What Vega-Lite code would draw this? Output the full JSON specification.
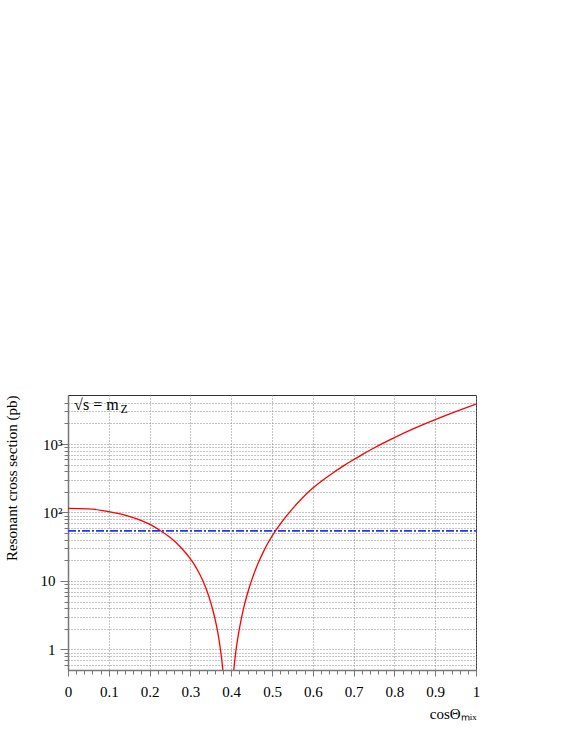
{
  "$schema": "https://vega.github.io/schema/vega-lite/v6.json",
  "width": 408,
  "height": 275,
  "autosize": "none",
  "padding": {"left": 68, "top": 395, "right": 96, "bottom": 70},
  "background": "white",
  "config": {
    "font": "Liberation Serif",
    "view": {"stroke": "#333", "strokeWidth": 1}
  },
  "datasets": {
    "curve": [
      {"cos": 0, "xsec": 115},
      {"cos": 0.05, "xsec": 113},
      {"cos": 0.1, "xsec": 103},
      {"cos": 0.15, "xsec": 88},
      {"cos": 0.2, "xsec": 67.5},
      {"cos": 0.224, "xsec": 55.5},
      {"cos": 0.25, "xsec": 43.3},
      {"cos": 0.275, "xsec": 31.5},
      {"cos": 0.3, "xsec": 21},
      {"cos": 0.31, "xsec": 17.2},
      {"cos": 0.32, "xsec": 13.5},
      {"cos": 0.33, "xsec": 10.2},
      {"cos": 0.34, "xsec": 7.3},
      {"cos": 0.35, "xsec": 4.8},
      {"cos": 0.36, "xsec": 2.85},
      {"cos": 0.37, "xsec": 1.4},
      {"cos": 0.3795, "xsec": 0.5},
      {"cos": 0.385, "xsec": 0.18},
      {"cos": 0.3925, "xsec": 0.01},
      {"cos": 0.4, "xsec": 0.15},
      {"cos": 0.4064, "xsec": 0.5},
      {"cos": 0.41, "xsec": 0.8},
      {"cos": 0.42, "xsec": 2.0},
      {"cos": 0.43, "xsec": 3.9},
      {"cos": 0.44, "xsec": 6.6},
      {"cos": 0.45, "xsec": 10.2},
      {"cos": 0.46, "xsec": 14.8},
      {"cos": 0.47, "xsec": 20.5},
      {"cos": 0.48, "xsec": 27.5},
      {"cos": 0.49, "xsec": 35.8},
      {"cos": 0.5, "xsec": 45},
      {"cos": 0.525, "xsec": 74},
      {"cos": 0.55, "xsec": 113},
      {"cos": 0.575, "xsec": 164},
      {"cos": 0.6, "xsec": 227},
      {"cos": 0.625, "xsec": 298},
      {"cos": 0.65, "xsec": 381},
      {"cos": 0.675, "xsec": 479},
      {"cos": 0.7, "xsec": 591},
      {"cos": 0.725, "xsec": 725},
      {"cos": 0.75, "xsec": 876},
      {"cos": 0.775, "xsec": 1048},
      {"cos": 0.8, "xsec": 1243},
      {"cos": 0.85, "xsec": 1704},
      {"cos": 0.9, "xsec": 2270},
      {"cos": 0.95, "xsec": 2969},
      {"cos": 1.0, "xsec": 3830}
    ],
    "ref": [
      {"cos": 0, "xsec": 54},
      {"cos": 1, "xsec": 54}
    ],
    "note": [
      {"main": "√s = m", "sub": "Z"}
    ]
  },
  "layer": [
    {
      "data": {"name": "curve"},
      "mark": {"type": "line", "color": "#ff0000", "strokeWidth": 1.3, "clip": true, "interpolate": "monotone"},
      "encoding": {
        "x": {
          "field": "cos", "type": "quantitative",
          "scale": {"domain": [0, 1], "nice": false, "zero": false},
          "axis": {
            "values": [0,0.02,0.04,0.06,0.08,0.1,0.12,0.14,0.16,0.18,0.2,0.22,0.24,0.26,0.28,0.3,0.32,0.34,0.36,0.38,0.4,0.42,0.44,0.46,0.48,0.5,0.52,0.54,0.56,0.58,0.6,0.62,0.64,0.66,0.68,0.7,0.72,0.74,0.76,0.78,0.8,0.82,0.84,0.86,0.88,0.9,0.92,0.94,0.96,0.98,1],
            "tickCount": 500,
            "labelExpr": "abs(datum.value*10 - round(datum.value*10)) < 0.001 ? format(datum.value, '.1~f') : ''",
            "labelFont": "Liberation Serif",
            "labelFontSize": 15,
            "labelColor": "#000",
            "labelPadding": 8,
            "labelFlush": false,
            "labelOverlap": false,
            "domainColor": "#777",
            "domainWidth": 1.5,
            "tickColor": "#777",
            "tickSize": {"condition": {"test": "abs(datum.value*10 - round(datum.value*10)) < 0.001", "value": 6}, "value": 4},
            "grid": true,
            "gridColor": "#888",
            "gridDash": [1, 2],
            "gridOpacity": {"condition": {"test": "abs(datum.value*10 - round(datum.value*10)) < 0.001", "value": 1}, "value": 0},
            "title": "cosΘₘᵢₓ",
            "titleFont": "Liberation Serif",
            "titleFontSize": 15,
            "titleFontWeight": "normal",
            "titleColor": "#000",
            "titleAlign": "right",
            "titleAnchor": null,
            "titleBaseline": "alphabetic",
            "titleX": 408,
            "titleY": 48
          }
        },
        "y": {
          "field": "xsec", "type": "quantitative",
          "scale": {"type": "log", "domain": [0.5, 5200], "nice": false},
          "axis": {
            "values": [0.6,0.7,0.8,0.9,1,2,3,4,5,6,7,8,9,10,20,30,40,50,60,70,80,90,100,200,300,400,500,600,700,800,900,1000,2000,3000,4000],
            "tickCount": 500,
            "labelExpr": "datum.value == 1 ? '1' : datum.value == 10 ? '10' : datum.value == 100 ? '10²' : datum.value == 1000 ? '10³' : ''",
            "labelFont": "Liberation Serif",
            "labelFontSize": 15,
            "labelColor": "#000",
            "labelPadding": {"condition": {"test": "datum.value >= 100", "value": -2}, "value": 5},
            "labelFlush": false,
            "labelOverlap": false,
            "domainColor": "#777",
            "domainWidth": 1.5,
            "tickColor": "#777",
            "tickSize": {"condition": {"test": "datum.value == 1 || datum.value == 10 || datum.value == 100 || datum.value == 1000", "value": 8}, "value": 4},
            "grid": true,
            "gridColor": "#888",
            "gridDash": [1, 2],
            "title": "Resonant cross section (pb)",
            "titleFont": "Liberation Serif",
            "titleFontSize": 15,
            "titleFontWeight": "normal",
            "titleColor": "#000",
            "titleAngle": -90,
            "titleAlign": "right",
            "titleAnchor": null,
            "titleBaseline": "alphabetic",
            "titleX": -52,
            "titleY": 0
          }
        }
      }
    },
    {
      "data": {"name": "ref"},
      "mark": {"type": "line", "color": "#2233ff", "strokeWidth": 1.7, "strokeDash": [8, 2, 2, 2]},
      "encoding": {
        "x": {"field": "cos", "type": "quantitative"},
        "y": {"field": "xsec", "type": "quantitative"}
      }
    },
    {
      "data": {"name": "note"},
      "mark": {"type": "text", "font": "Liberation Serif", "fontSize": 16, "align": "left", "baseline": "alphabetic", "color": "#000"},
      "encoding": {
        "x": {"datum": 0.015, "type": "quantitative"},
        "y": {"datum": 3170, "type": "quantitative"},
        "text": {"field": "main"}
      }
    },
    {
      "data": {"name": "note"},
      "mark": {"type": "text", "font": "Liberation Serif", "fontSize": 12, "align": "left", "baseline": "alphabetic", "color": "#000"},
      "encoding": {
        "x": {"datum": 0.1285, "type": "quantitative"},
        "y": {"datum": 2838, "type": "quantitative"},
        "text": {"field": "sub"}
      }
    }
  ]
}
